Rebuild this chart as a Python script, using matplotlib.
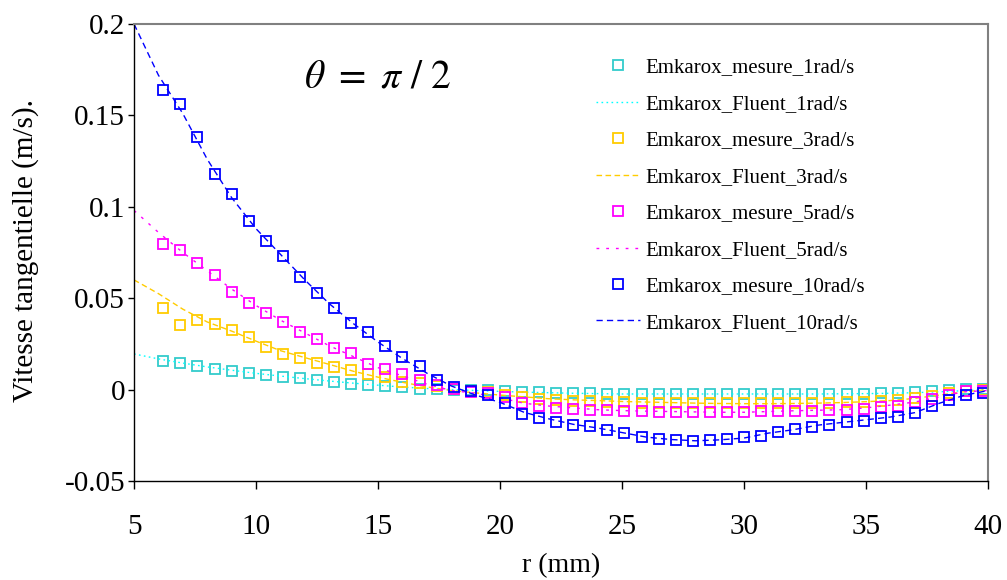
import matplotlib
matplotlib.use("Agg")
import matplotlib.pyplot as plt

plt.rcParams["font.family"] = ["Liberation Serif", "DejaVu Serif"]
plt.rcParams["mathtext.fontset"] = "stix"
plt.rcParams["axes.unicode_minus"] = False

# measured radii (mm)
r_mesure = [6.2, 6.9, 7.6, 8.3, 9.0, 9.7, 10.4, 11.1, 11.8, 12.5, 13.2, 13.9, 14.6,
            15.3, 16.0, 16.7, 17.4, 18.1, 18.8, 19.5, 20.2, 20.9, 21.6, 22.3, 23.0,
            23.7, 24.4, 25.1, 25.8, 26.5, 27.2, 27.9, 28.6, 29.3, 30.0, 30.7, 31.4,
            32.1, 32.8, 33.5, 34.2, 34.9, 35.6, 36.3, 37.0, 37.7, 38.4, 39.1, 39.8]

mesure_1 = [0.0155, 0.0144, 0.0127, 0.0115, 0.0102, 0.0091, 0.0080, 0.0071, 0.0061,
            0.0053, 0.0040, 0.0031, 0.0027, 0.0022, 0.0013, 0.0005, 0.0002, 0.0000,
            -0.0002, -0.0004, -0.0007, -0.0011, -0.0014, -0.0017, -0.0019, -0.0021,
            -0.0022, -0.0023, -0.0024, -0.0024, -0.0024, -0.0024, -0.0024, -0.0024,
            -0.0024, -0.0024, -0.0024, -0.0024, -0.0024, -0.0024, -0.0023, -0.0022,
            -0.0020, -0.0016, -0.0011, -0.0005, -0.0002, 0.0002, 0.0004]
mesure_3 = [0.0447, 0.0354, 0.0381, 0.0359, 0.0327, 0.0286, 0.0235, 0.0195, 0.0175,
            0.0146, 0.0126, 0.0108, 0.0086, 0.0067, 0.0042, 0.0035, 0.0020, 0.0004,
            -0.0005, -0.0015, -0.0027, -0.0042, -0.0051, -0.0056, -0.0060, -0.0064,
            -0.0066, -0.0069, -0.0071, -0.0073, -0.0075, -0.0075, -0.0075, -0.0075,
            -0.0073, -0.0073, -0.0073, -0.0073, -0.0073, -0.0071, -0.0069, -0.0066,
            -0.0060, -0.0055, -0.0046, -0.0033, -0.0020, -0.0009, -0.0002]
mesure_5 = [0.0797, 0.0766, 0.0693, 0.0625, 0.0534, 0.0474, 0.0417, 0.0368, 0.0317,
            0.0275, 0.0228, 0.0199, 0.0141, 0.0111, 0.0086, 0.0055, 0.0027, 0.0004,
            -0.0011, -0.0020, -0.0038, -0.0073, -0.0091, -0.0100, -0.0106, -0.0109,
            -0.0111, -0.0115, -0.0119, -0.0124, -0.0124, -0.0124, -0.0124, -0.0124,
            -0.0124, -0.0119, -0.0115, -0.0115, -0.0115, -0.0111, -0.0109, -0.0106,
            -0.0097, -0.0088, -0.0069, -0.0051, -0.0027, -0.0009, -0.0007]
mesure_10 = [0.164, 0.156, 0.138, 0.118, 0.107, 0.0925, 0.0813, 0.0733, 0.0614,
             0.0527, 0.0447, 0.0365, 0.0316, 0.0237, 0.0180, 0.0127, 0.0053, 0.0013,
             -0.0009, -0.0027, -0.0073, -0.0133, -0.0157, -0.0179, -0.0191, -0.0201,
             -0.0220, -0.0239, -0.0257, -0.0270, -0.0275, -0.0283, -0.0274, -0.0270,
             -0.0261, -0.0255, -0.0233, -0.0215, -0.0202, -0.0191, -0.0179, -0.0170,
             -0.0157, -0.0148, -0.0126, -0.0091, -0.0056, -0.0027, -0.0020]

# Fluent simulation radii (mm)
r_fluent = [5, 6, 7, 8, 9, 10, 11, 12, 13, 14, 15, 16, 17, 18, 19, 20, 21, 22, 23, 24,
            25, 26, 27, 28, 29, 30, 31, 32, 33, 34, 35, 36, 37, 38, 39, 40]

fluent_1 = [0.0195, 0.0168, 0.0145, 0.0124, 0.0106, 0.0089, 0.0074, 0.0060, 0.0047,
            0.0035, 0.0024, 0.0014, 0.0006, 0.0000, -0.0005, -0.0010, -0.0014, -0.0017,
            -0.0020, -0.0022, -0.0024, -0.0024, -0.0024, -0.0024, -0.0024, -0.0024,
            -0.0024, -0.0024, -0.0024, -0.0023, -0.0022, -0.0020, -0.0017, -0.0012,
            -0.0006, 0.0000]
fluent_3 = [0.060, 0.0525, 0.044, 0.037, 0.032, 0.0265, 0.0213, 0.0175, 0.0138, 0.010,
            0.0068, 0.004, 0.0015, -0.0005, -0.0018, -0.003, -0.004, -0.005, -0.0056,
            -0.006, -0.0065, -0.0068, -0.0071, -0.0074, -0.0076, -0.0077, -0.0077,
            -0.0076, -0.0074, -0.0071, -0.0066, -0.006, -0.0048, -0.003, -0.0012, 0.0]
fluent_5 = [0.098, 0.086, 0.075, 0.065, 0.055, 0.046, 0.038, 0.031, 0.024, 0.018, 0.012,
            0.0075, 0.003, -0.0005, -0.002, -0.0045, -0.0075, -0.009, -0.010, -0.011,
            -0.0115, -0.0118, -0.012, -0.0122, -0.0124, -0.0124, -0.012, -0.0116,
            -0.0113, -0.011, -0.010, -0.0085, -0.0068, -0.004, -0.0012, -0.0005]
fluent_10 = [0.200, 0.172, 0.151, 0.126, 0.105, 0.088, 0.074, 0.060, 0.047, 0.036,
             0.026, 0.017, 0.009, 0.002, -0.003, -0.007, -0.0125, -0.016, -0.019,
             -0.021, -0.0235, -0.026, -0.0273, -0.028, -0.0275, -0.0265, -0.0238,
             -0.022, -0.0195, -0.018, -0.0165, -0.015, -0.0126, -0.0075, -0.0032,
             -0.0005]

series = [
    ("1rad/s", mesure_1, fluent_1, "#33CCCC", "#00FFFF", (0, (1.2, 2.4))),
    ("3rad/s", mesure_3, fluent_3, "#FFCC00", "#FFCC00", (0, (4, 2.5))),
    ("5rad/s", mesure_5, fluent_5, "#FF00FF", "#FF00FF", (0, (2, 5))),
    ("10rad/s", mesure_10, fluent_10, "#0000FF", "#0000FF", (0, (4.5, 3))),
]

fig = plt.figure(figsize=(10.07, 5.80), dpi=100)
ax = fig.add_axes([0.1331, 0.1707, 0.8481, 0.7879])

for name, mes, flu, mcol, lcol, ls in series:
    ax.plot(r_mesure, mes, linestyle="none", marker="s", markersize=6.8,
            markerfacecolor="none", markeredgecolor=mcol, markeredgewidth=1.3,
            label="Emkarox_mesure_" + name)
    ax.plot(r_fluent, flu, color=lcol, linewidth=1.0, linestyle=ls,
            label="Emkarox_Fluent_" + name)

ax.set_xlim(5, 40)
ax.set_ylim(-0.05, 0.2)
ax.set_xticks([5, 10, 15, 20, 25, 30, 35, 40])
ax.set_yticks([-0.05, 0, 0.05, 0.1, 0.15, 0.2])
ax.set_yticklabels(["-0.05", "0", "0.05", "0.1", "0.15", "0.2"])
ax.tick_params(axis="x", direction="out", length=6, width=1, pad=18, labelsize=21)
ax.tick_params(axis="y", direction="out", length=4.5, width=1, pad=2, labelsize=21)

for side in ("top", "right"):
    ax.spines[side].set_color("#808080")
    ax.spines[side].set_linewidth(1.5)
for side in ("left", "bottom"):
    ax.spines[side].set_color("black")
    ax.spines[side].set_linewidth(1.0)

ax.set_xlabel("r (mm)", fontsize=20, va="center")
ax.xaxis.set_label_coords(0.5, -0.186)
ax.set_ylabel("Vitesse tangentielle (m/s).", fontsize=21, va="center")
ax.yaxis.set_label_coords(-0.1276, 0.505)

ax.text(0.2857, 0.882, r"$\theta\ =\ \pi\ /\ 2$", fontsize=28.5,
        ha="center", va="center", transform=ax.transAxes)

ax.legend(loc="upper left", bbox_to_anchor=(596 / 1007, 1 - 58 / 580),
          bbox_transform=fig.transFigure, frameon=False, fontsize=15,
          borderpad=0, borderaxespad=0, handlelength=2.1, handletextpad=0.25,
          labelspacing=0.81, numpoints=1)

fig.savefig("out.png", dpi=100)
